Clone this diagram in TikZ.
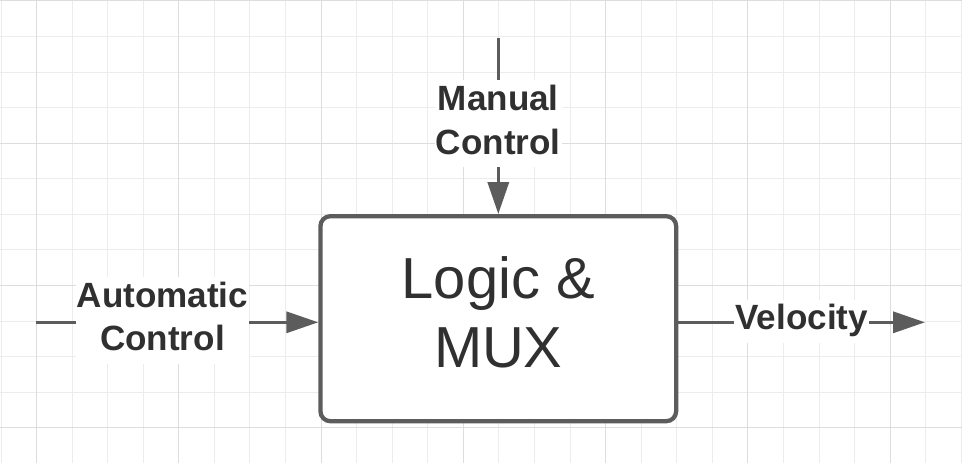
\documentclass[tikz,border=0pt]{standalone}
\usepackage{fontspec}
\setmainfont{Liberation Sans}
\usetikzlibrary{arrows.meta}
\definecolor{gridminorc}{HTML}{ECECEC}
\definecolor{gridmajorc}{HTML}{DDDDDD}
\definecolor{linegray}{HTML}{5C5C5C}
\definecolor{textgray}{HTML}{303030}
\begin{document}
\begin{tikzpicture}[x=0.75pt,y=-0.75pt,
  gridminor/.style={draw=gridminorc, line width=0.75pt},
  gridmajor/.style={draw=gridmajorc, line width=0.75pt},
  conn/.style={draw=linegray, line width=2.5pt},
  arrowtip/.style={-{Triangle[length=24pt,width=15.75pt]}, fill=linegray},
  lbl/.style={fill=white, text=textgray, font=\fontsize{26.3pt}{32.5pt}\selectfont\bfseries,
    align=center, inner xsep=0.75pt, inner ysep=0pt},
  muxbox/.style={draw=linegray, line width=3.2pt, rounded corners=7.5pt, fill=white,
    minimum width=266.8pt, minimum height=153.8pt, inner sep=0pt,
    text=textgray, font=\fontsize{43.4pt}{51.75pt}\selectfont, align=center}]
  % background and bounding box
  \fill[white] (0,0) rectangle (962,463);
  \useasboundingbox (0,0) rectangle (962,463);
  % grid
  \foreach \k in {0,...,27} {
    \pgfmathsetmacro\xx{1+35.57*\k}
    \draw[gridminor] (\xx,0) -- (\xx,463);
  }
  \foreach \k in {0,...,13} {
    \pgfmathsetmacro\yy{1+35.57*\k}
    \draw[gridminor] (0,\yy) -- (962,\yy);
  }
  \foreach \k in {1,5,...,25} {
    \pgfmathsetmacro\xx{1+35.57*\k}
    \draw[gridmajor] (\xx,0) -- (\xx,463);
  }
  \foreach \k in {0,4,8,12} {
    \pgfmathsetmacro\yy{1+35.57*\k}
    \draw[gridmajor] (0,\yy) -- (962,\yy);
  }
  % main block
  \node[muxbox] (mux) at (498.3,318.7) {\strut Logic \&\\\strut MUX};
  % free ends
  \coordinate (mstart) at (498.3,38);
  \coordinate (astart) at (36,322.3);
  \coordinate (vend) at (925,322.3);
  % connectors
  \draw[conn,arrowtip] (mstart) -- node[lbl,pos=0.487] (manual) {\strut Manual\\\strut Control} (mux.north);
  \draw[conn,arrowtip] (astart) -- node[lbl,pos=0.448,yshift=1.5pt] (auto) {\strut Automatic\\\strut Control} (astart -| mux.west);
  \draw[conn,arrowtip] (mux.east |- vend) -- node[lbl,midway,yshift=0.75pt] (vel) {\strut Velocity} (vend);
\end{tikzpicture}
\end{document}
